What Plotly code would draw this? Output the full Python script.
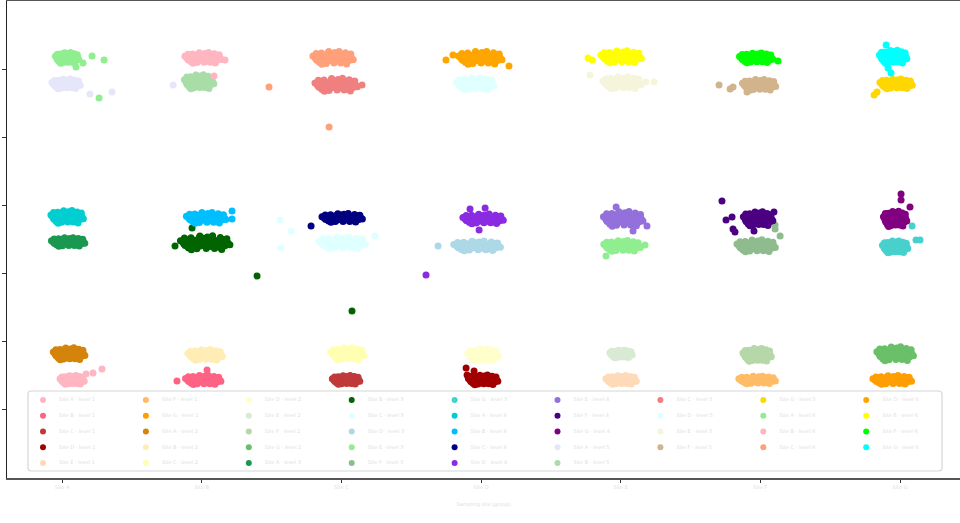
import plotly.graph_objects as go

# ---- categories and labels -------------------------------------------------
categories = ["Site A", "Site B", "Site C", "Site D", "Site E", "Site F", "Site G"]
levels = ["level 1", "level 2", "level 3", "level 4", "level 5", "level 6"]
x_title = "Sampling site (group)"

# ---- per-series values: series i -> category i % 7, level i // 7 -----------
series_colors = [
    "#FFB6C1", "#FF6384", "#C0393B", "#A00000", "#FFDAB9", "#FFBB66", "#FF9E00",
    "#D4840A", "#FFEDB5", "#FFFFB3", "#FFFFCC", "#D9EAD3", "#B6D7A8", "#6ABF69",
    "#1A9850", "#006400", "#E0FFFF", "#ADD8E6", "#90EE90", "#8FBC8F", "#48D1CC",
    "#00CED1", "#00BFFF", "#000080", "#8A2BE2", "#9370DB", "#4B0082", "#800080",
    "#E6E6FA", "#A8DDA8", "#F08080", "#E0FFFF", "#F5F5DC", "#D2B48C", "#FFD700",
    "#90EE90", "#FFB6C1", "#FFA07A", "#FFA500", "#FFFF00", "#00FF00", "#00FFFF",
]

center_x = [
    0.072, 1.010, 2.033, 3.014, 4.002, 4.976, 5.943,
    0.050, 1.024, 2.041, 3.014, 4.002, 4.976, 5.964,
    0.043, 1.024, 2.005, 2.971, 4.009, 4.969, 5.964,
    0.036, 1.031, 2.005, 3.014, 4.017, 4.983, 5.964,
    0.029, 0.981, 1.962, 2.957, 4.009, 4.990, 5.971,
    0.036, 1.010, 1.940, 2.993, 4.002, 4.969, 5.950,
]
center_y = [
    0.438, 0.438, 0.438, 0.438, 0.438, 0.438, 0.438,
    0.820, 0.805, 0.820, 0.805, 0.820, 0.805, 0.820,
    2.463, 2.449, 2.449, 2.405, 2.405, 2.405, 2.390,
    2.830, 2.816, 2.816, 2.801, 2.801, 2.801, 2.801,
    4.782, 4.812, 4.768, 4.782, 4.797, 4.768, 4.782,
    5.164, 5.164, 5.164, 5.164, 5.179, 5.164, 5.179,
]
spread_x = [
    0.082, 0.120, 0.093, 0.100, 0.103, 0.124, 0.131,
    0.107, 0.117, 0.113, 0.103, 0.076, 0.096, 0.124,
    0.113, 0.168, 0.158, 0.158, 0.124, 0.130, 0.086,
    0.110, 0.134, 0.137, 0.137, 0.134, 0.100, 0.079,
    0.096, 0.100, 0.144, 0.127, 0.130, 0.113, 0.110,
    0.079, 0.124, 0.137, 0.148, 0.137, 0.113, 0.093,
]
spread_y = [
    0.056, 0.059, 0.056, 0.063, 0.056, 0.049, 0.056,
    0.078, 0.070, 0.078, 0.078, 0.049, 0.084, 0.091,
    0.056, 0.091, 0.077, 0.063, 0.070, 0.078, 0.078,
    0.082, 0.070, 0.056, 0.063, 0.096, 0.091, 0.099,
    0.063, 0.091, 0.084, 0.078, 0.078, 0.070, 0.063,
    0.070, 0.070, 0.084, 0.084, 0.078, 0.063, 0.084,
]

# shared jitter pattern of one cloud (roughly a unit ellipse, ragged rim)
cloud_dx = [-0.95, -0.85, -0.80, -0.70, -0.65, -0.60, -0.50, -0.45, -0.35, -0.30,
            -0.25, -0.20, -0.10, 0.00, 0.05, 0.10, 0.15, 0.20, 0.30, 0.35,
            0.40, 0.45, 0.55, 0.60, 0.65, 0.70, 0.80, 0.85, 0.97, -0.90,
            0.90, -0.40, 0.25, -0.15, 0.50, -0.55, 0.75, -0.05, 0.10, -0.75,
            1.06, -1.05, 0.32, -0.58, 0.71, -0.22, 0.93, -0.88]
cloud_dy = [0.10, -0.40, 0.50, -0.80, 0.00, 0.85, -0.35, 0.45, -0.95, 0.05,
            0.90, -0.50, 0.50, -0.10, -0.90, 0.95, 0.35, -0.55, 0.00, 0.70,
            -0.90, -0.35, 0.40, -0.70, 0.90, 0.00, 0.55, -0.45, 0.05, -0.15,
            0.30, -0.70, 0.65, -0.15, 0.15, 0.25, -0.20, 0.75, -0.35, -0.55,
            -0.30, 0.35, 1.15, -1.10, -1.05, 1.12, 0.70, 0.80]

# stray observations outside the main clouds
stray_x = {
    0: [0.172, 0.222, 0.286], 1: [0.823, 1.038], 3: [2.893, 2.950, 2.900],
    15: [0.931, 1.396, 2.076, 0.809], 16: [1.561, 1.640, 1.568, 2.241],
    17: [2.692], 18: [4.174, 3.895], 19: [5.105, 5.105, 5.141],
    20: [6.086, 6.114, 6.143], 22: [1.217, 1.217], 23: [1.783],
    24: [2.921, 3.029, 2.986, 2.606], 25: [3.967, 4.088, 4.188],
    26: [4.725, 4.754, 4.797, 4.804, 4.818, 4.954, 5.097],
    27: [6.007, 6.007, 6.071], 28: [0.200, 0.358, 0.795], 30: [2.148],
    32: [3.780, 4.181, 4.239], 33: [4.704, 4.783, 4.804, 4.904],
    34: [5.814, 5.835], 35: [0.215, 0.301, 0.150, 0.100, 0.265],
    36: [1.088, 1.167], 37: [1.482, 1.912], 38: [2.749, 2.799, 3.200],
    39: [3.766, 3.795], 40: [5.126], 41: [5.900, 5.935, 5.914],
}
stray_y = {
    0: [0.526, 0.541, 0.600], 1: [0.424, 0.585], 3: [0.614, 0.570, 0.512],
    15: [2.669, 1.964, 1.451, 2.405], 16: [2.786, 2.625, 2.375, 2.551],
    17: [2.405], 18: [2.419, 2.258], 19: [2.713, 2.654, 2.552],
    20: [2.698, 2.493, 2.493], 22: [2.918, 2.801], 23: [2.698],
    24: [2.948, 2.962, 2.640, 1.979], 25: [2.977, 2.625, 2.698],
    26: [3.065, 2.786, 2.830, 2.654, 2.610, 2.625, 2.904],
    27: [3.168, 3.080, 2.977], 28: [4.635, 4.665, 4.768], 30: [4.768],
    32: [4.914, 4.812, 4.812], 33: [4.768, 4.709, 4.738, 4.665],
    34: [4.621, 4.665], 35: [5.193, 5.134, 5.090, 5.031, 4.577],
    36: [4.900, 5.134], 37: [4.739, 4.151], 38: [5.134, 5.208, 5.046],
    39: [5.164, 5.134], 40: [5.120], 41: [5.355, 4.944, 5.017],
}

n_series = len(series_colors)
names = [f"{categories[i % 7]} \u00b7 {levels[i // 7]}" for i in range(n_series)]

TEXT_FONT = dict(family="DejaVu Sans", size=5, color="#e0e0e0")

fig = go.Figure()

# ---- scatter clouds ---------------------------------------------------------
for i in range(n_series):
    xs = [center_x[i] + dx * spread_x[i] for dx in cloud_dx] + stray_x.get(i, [])
    ys = [center_y[i] + dy * spread_y[i] for dy in cloud_dy] + stray_y.get(i, [])
    fig.add_trace(go.Scatter(
        x=xs, y=ys, mode="markers", name=names[i], showlegend=False,
        marker=dict(color=series_colors[i], size=7, line=dict(width=0)),
        hoverinfo="name",
    ))

# ---- legend drawn on a pixel-unit overlay axis pair -------------------------
LEG_X0, LEG_Y0 = 43.0, 400.0      # first key
LEG_DX, LEG_DY = 102.9, 15.75     # column / row pitch
LEG_TEXT_GAP = 16.0
BOX = (28.0, 391.0, 942.0, 471.0)
RAD = 3.0

key_x, key_y = [], []
for i in range(n_series):
    if i < 30:
        col, row = i // 5, i % 5
    else:
        col, row = 6 + (i - 30) // 4, (i - 30) % 4
    key_x.append(LEG_X0 + col * LEG_DX)
    key_y.append(LEG_Y0 + row * LEG_DY)

fig.add_trace(go.Scatter(
    x=key_x, y=key_y, xaxis="x2", yaxis="y2", mode="markers",
    marker=dict(color=series_colors, size=6, line=dict(width=0)),
    showlegend=False, hoverinfo="skip",
))
fig.add_trace(go.Scatter(
    x=[kx + LEG_TEXT_GAP for kx in key_x], y=key_y, xaxis="x2", yaxis="y2",
    mode="text", text=names, textposition="middle right",
    textfont=TEXT_FONT, showlegend=False, hoverinfo="skip",
))

x0, y0, x1, y1 = BOX
box_path = (
    f"M {x0 + RAD},{y0} L {x1 - RAD},{y0} Q {x1},{y0} {x1},{y0 + RAD} "
    f"L {x1},{y1 - RAD} Q {x1},{y1} {x1 - RAD},{y1} "
    f"L {x0 + RAD},{y1} Q {x0},{y1} {x0},{y1 - RAD} "
    f"L {x0},{y0 + RAD} Q {x0},{y0} {x0 + RAD},{y0} Z"
)
fig.add_shape(type="path", path=box_path, xref="x2", yref="y2", layer="below",
              fillcolor="rgba(255,255,255,0.8)", line=dict(color="#d6d6d6", width=1.2))

# ---- layout -----------------------------------------------------------------
fig.update_layout(
    width=960, height=523,
    margin=dict(l=7, r=0, t=1, b=45, pad=0),
    paper_bgcolor="white", plot_bgcolor="white",
    showlegend=False,
    xaxis=dict(
        range=[-0.394, 6.429], tickvals=list(range(len(categories))),
        ticktext=categories, tickfont=TEXT_FONT, ticks="outside", ticklen=3,
        tickcolor="#333", showgrid=False, zeroline=False, showline=True,
        linecolor="#555", linewidth=1.5, mirror=True, automargin=False,
        title=dict(text=x_title, font=TEXT_FONT, standoff=14),
    ),
    yaxis=dict(
        range=[-1, 6], tickvals=[0, 1, 2, 3, 4, 5], ticks="outside", ticklen=4,
        tickcolor="#333", showticklabels=False, showgrid=False, zeroline=False,
        showline=True, linecolor="#222", linewidth=1, automargin=False,
    ),
    xaxis2=dict(overlaying="x", range=[7, 960], visible=False, fixedrange=True),
    yaxis2=dict(overlaying="y", range=[478, 1], visible=False, fixedrange=True),
)

fig.write_html("out.html")
